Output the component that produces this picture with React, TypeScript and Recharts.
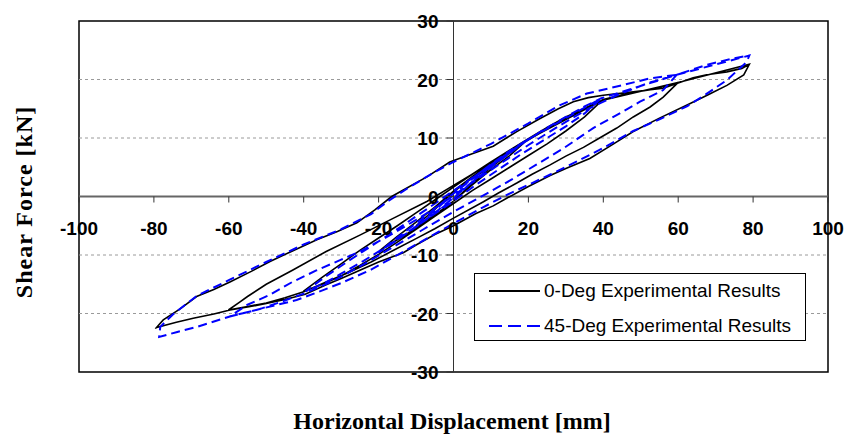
import { Line, LineChart, ReferenceArea, ReferenceDot, ReferenceLine, XAxis, YAxis } from "recharts";

type Pt = [number, number];

const xTicks = [-100, -80, -60, -40, -20, 0, 20, 40, 60, 80, 100];
const yTicks = [-30, -20, -10, 0, 10, 20, 30];
const gridLevels = [-20, -10, 10, 20];

// 0-Deg specimen: one cycle per amplitude, lower branch (+A -> -A) then upper branch (-A -> +A)
const deg0Loop10: Pt[] = [
  [10, 5.0], [5, 2.2], [0, -0.8], [-5, -3.2], [-10, -5.0],
  [-5, -2.2], [0, 0.8], [5, 3.2], [10, 5.0],
];
const deg0Loop20: Pt[] = [
  [19.5, 9.6], [15, 7.0], [10, 4.6], [5, 2.0], [0, -0.8], [-5, -3.2], [-10, -5.4], [-15, -7.4], [-19.6, -9.2],
  [-15, -6.8], [-10, -4.4], [-5, -1.8], [0, 0.9], [5, 3.4], [10, 5.6], [15, 7.7], [19.5, 9.6],
];
const deg0Loop40: Pt[] = [
  [39.6, 16.4], [35, 13.6], [30, 11.2], [25, 9.0], [20, 7.0], [15, 5.0], [10, 3.0], [5, 1.0], [0, -1.2],
  [-5, -3.4], [-10, -5.6], [-15, -7.8], [-20, -9.9], [-25, -11.8], [-30, -13.6], [-35, -15.0], [-40.1, -16.2],
  [-35, -13.8], [-30, -11.5], [-25, -9.2], [-20, -7.1], [-15, -5.0], [-10, -2.8], [-5, -0.6], [0, 1.6],
  [5, 3.8], [10, 5.9], [15, 7.9], [20, 9.9], [25, 11.8], [30, 13.6], [35, 15.1], [39.6, 16.4],
];
const deg0Loop60: Pt[] = [
  [60, 19.5], [56, 17.0], [52.5, 15.3], [48, 13.6], [43.6, 11.7], [39, 10.0], [34.7, 8.4], [30, 6.9],
  [25.8, 5.4], [21, 3.8], [16.9, 2.3], [12, 0.6], [8, -0.9], [0, -3.7], [-5, -5.5], [-10, -7.2],
  [-16, -9.2], [-22, -11.2], [-28, -13.0], [-34, -14.6], [-40, -16.3], [-45, -17.3], [-50, -18.2],
  [-55, -18.8], [-60.1, -19.4],
  [-57, -18.0], [-55, -17.1], [-50, -15.0], [-43, -12.6], [-34, -9.4], [-25, -6.6], [-16, -3.7], [-7, -0.8],
  [0, 1.9], [5, 3.8], [10, 5.8], [15, 7.8], [23, 10.8], [30, 13.3], [35, 15.0], [40, 16.6], [45, 17.4],
  [50, 18.0], [56, 18.6], [60, 19.5],
];
const deg0Loop80: Pt[] = [
  [79, 22.6], [77.5, 20.8], [73, 19.0], [68, 17.4], [63.2, 15.9], [55, 13.4], [48, 11.1], [42, 8.7],
  [36.4, 6.5], [30, 4.8], [25.8, 3.6], [20, 1.7], [14.2, -0.3], [10.6, -1.6], [6, -2.9], [0, -5.0],
  [-5, -6.5], [-10, -8.3], [-13.4, -9.6], [-20, -11.2], [-25, -12.6], [-30, -14.0], [-34, -15.1],
  [-39.6, -16.7], [-45, -17.6], [-50, -18.3], [-55, -18.9], [-59.7, -19.4], [-64, -20.1], [-69.5, -20.8],
  [-74, -21.5], [-79.3, -22.4],
  [-77.5, -21.1], [-73, -19.2], [-68.6, -17.1], [-64, -15.9], [-59.7, -14.6], [-54, -12.8], [-49, -11.1],
  [-43, -9.3], [-36.5, -7.4], [-31, -6.0], [-25.8, -4.5], [-21, -2.3], [-16.5, 0], [-13.4, 1.1], [-7, 3.4],
  [-1, 5.9], [5, 7.3], [10.6, 8.6], [16.9, 11.1], [23, 13.3], [28, 15.0], [32, 16.2], [36, 16.9],
  [40, 17.3], [48, 17.9], [56, 18.5], [60, 19.4], [64, 20.3], [67.6, 20.8], [73, 21.3], [77, 21.9], [79, 22.6],
];

// 45-Deg specimen, same loading history
const deg45Loop10: Pt[] = [
  [10, 5.2], [5, 2.5], [0, -0.4], [-5, -2.9], [-10, -5.1],
  [-5, -2.4], [0, 0.5], [5, 3.0], [10, 5.2],
];
const deg45Loop20: Pt[] = [
  [20, 9.8], [15, 7.4], [10, 5.0], [5, 2.5], [0, -0.2], [-5, -2.8], [-10, -5.2], [-15, -7.4], [-20, -9.6],
  [-15, -7.0], [-10, -4.6], [-5, -2.1], [0, 0.5], [5, 3.1], [10, 5.5], [15, 7.8], [20, 9.8],
];
const deg45Loop40: Pt[] = [
  [39.5, 16.8], [35, 14.2], [30, 12.0], [24, 9.6], [18, 7.2], [12, 4.6], [6, 2.0], [0, -0.8], [-6, -3.4],
  [-12, -6.0], [-18, -8.6], [-24, -11.0], [-30, -13.2], [-35, -15.0], [-39.5, -16.2],
  [-34, -13.6], [-28, -11.0], [-22, -8.5], [-16, -6.0], [-10, -3.4], [-4, -0.8], [0, 1.0], [6, 3.6],
  [12, 6.3], [18, 8.9], [24, 11.4], [30, 13.6], [35, 15.4], [39.5, 16.8],
];
const deg45Loop60: Pt[] = [
  [59.6, 20.8], [56, 18.2], [49.8, 16.2], [42.7, 13.6], [37.3, 11.7], [29.3, 8.2], [22, 5.4], [15, 2.7],
  [8, 0.2], [0, -2.6], [-8, -5.6], [-16, -8.6], [-24, -11.6], [-32, -14.4], [-40, -16.6], [-46, -18.0],
  [-52, -19.3], [-59.7, -20.5],
  [-55, -18.5], [-49, -16.8], [-43, -14.6], [-36.5, -12.6], [-30, -10.8], [-25, -9.4], [-18, -7.0],
  [-10, -4.0], [-4, -1.6], [0, 0.2], [6, 2.8], [12, 5.4], [20, 8.8], [28, 12.0], [36, 15.0], [44, 17.4],
  [52, 19.4], [59.6, 20.8],
];
const deg45Loop80: Pt[] = [
  [79, 24.1], [78.3, 23.0], [73, 19.9], [67, 17.3], [62.3, 15.4], [55, 13.2], [48, 11.2], [40, 8.3],
  [33, 6.0], [26, 3.8], [20, 2.0], [14, 0.2], [8, -1.8], [0, -4.6], [-8, -7.5], [-15, -10.0], [-22, -12.5],
  [-30, -14.8], [-36, -16.3], [-41.9, -17.7], [-50.8, -19.1], [-59.7, -20.5], [-68.6, -22.3], [-74, -23.2],
  [-78.6, -24.0],
  [-78.3, -22.3], [-75, -20.2], [-68.6, -17.0], [-60, -14.3], [-50, -11.2], [-40, -8.2], [-30, -5.6],
  [-22, -3.0], [-17.5, -0.8], [-12, 1.5], [-5, 4.2], [0, 5.9], [10, 9.0], [20, 12.5], [28, 15.5],
  [35.6, 17.6], [43.6, 18.8], [52.5, 20.2], [59.6, 20.8], [67.6, 22.5], [74.6, 23.6], [79, 24.1],
];

const toRows = (loops: Pt[][]) => loops.flat().map(([x, y]) => ({ x, y }));

const deg0Data = toRows([deg0Loop10, deg0Loop20, deg0Loop40, deg0Loop60, deg0Loop80]);
const deg45Data = toRows([deg45Loop10, deg45Loop20, deg45Loop40, deg45Loop60, deg45Loop80]);

const TICK_FONT = { fontFamily: "'Liberation Sans', Arial, sans-serif", fontWeight: 700, fontSize: 19 };
const TITLE_FONT: React.CSSProperties = {
  position: "absolute",
  fontFamily: "'Liberation Serif', 'Times New Roman', serif",
  fontWeight: 700,
  fontSize: 24,
  whiteSpace: "nowrap",
  color: "#000",
};

const xTickShape = (value: number) => (props: any) => (
  <g>
    <line x1={props.cx} y1={props.cy} x2={props.cx} y2={props.cy + 6} stroke="#333" strokeWidth={1} />
    <text x={props.cx} y={props.cy + 38} textAnchor="middle" fill="#000" {...TICK_FONT}>
      {value}
    </text>
  </g>
);

const yTickShape = (value: number) => (props: any) => (
  <g>
    <line x1={props.cx - 7} y1={props.cy} x2={props.cx} y2={props.cy} stroke="#333" strokeWidth={1} />
    <text x={props.cx - 15} y={props.cy + 7} textAnchor="end" fill="#000" {...TICK_FONT}>
      {value}
    </text>
  </g>
);

const LegendBox = () => (
  <div
    style={{
      position: "absolute",
      left: 474,
      top: 273,
      width: 330,
      height: 66,
      border: "1px solid #000",
      background: "#fff",
      fontFamily: "'Liberation Sans', Arial, sans-serif",
      fontSize: 19,
      color: "#000",
    }}
  >
    <svg width={70} height={66} style={{ position: "absolute", left: 0, top: 0 }}>
      <line x1={14} y1={17} x2={65} y2={17} stroke="#000" strokeWidth={2} />
      <line x1={14} y1={52} x2={65} y2={52} stroke="#0000ff" strokeWidth={2} strokeDasharray="13 6" />
    </svg>
    <div style={{ position: "absolute", left: 69, top: 5, lineHeight: "24px" }}>0-Deg Experimental Results</div>
    <div style={{ position: "absolute", left: 69, top: 40, lineHeight: "24px" }}>45-Deg Experimental Results</div>
  </div>
);

export default function App() {
  return (
    <div style={{ position: "absolute", left: 0, top: 0, width: 846, height: 435, background: "#fff" }}>
      <LineChart width={846} height={435} margin={{ top: 21, right: 18, bottom: 63, left: 79 }}>
        <XAxis type="number" dataKey="x" domain={[-100, 100]} ticks={xTicks} allowDataOverflow hide />
        <YAxis type="number" dataKey="y" domain={[-30, 30]} ticks={yTicks} allowDataOverflow hide />
        {gridLevels.map((v) => (
          <ReferenceLine key={`g${v}`} y={v} stroke="#9a9a9a" strokeDasharray="3 3" strokeWidth={1} />
        ))}
        <ReferenceLine y={0} stroke="#666" strokeWidth={2} />
        <ReferenceLine x={0} stroke="#333" strokeWidth={1} />
        {xTicks.map((v) => (
          <ReferenceDot key={`xt${v}`} x={v} y={0} r={0} shape={xTickShape(v)} ifOverflow="visible" />
        ))}
        {yTicks.map((v) => (
          <ReferenceDot key={`yt${v}`} x={0} y={v} r={0} shape={yTickShape(v)} ifOverflow="visible" />
        ))}
        <Line
          data={deg0Data}
          dataKey="y"
          name="0-Deg Experimental Results"
          stroke="#000"
          strokeWidth={1.6}
          dot={false}
          isAnimationActive={false}
        />
        <Line
          data={deg45Data}
          dataKey="y"
          name="45-Deg Experimental Results"
          stroke="#0000ff"
          strokeWidth={2}
          strokeDasharray="9 5"
          dot={false}
          isAnimationActive={false}
        />
        <ReferenceArea x1={-100} x2={100} y1={-30} y2={30} fill="none" stroke="#000" strokeWidth={1.5} ifOverflow="visible" />
      </LineChart>
      <LegendBox />
      <div
        style={{
          ...TITLE_FONT,
          left: 24,
          top: 202,
          transform: "translate(-50%, -50%) rotate(-90deg)",
          letterSpacing: 1,
        }}
      >
        Shear Force [kN]
      </div>
      <div style={{ ...TITLE_FONT, left: 452, top: 421, transform: "translate(-50%, -50%)" }}>
        Horizontal Displacement [mm]
      </div>
    </div>
  );
}
